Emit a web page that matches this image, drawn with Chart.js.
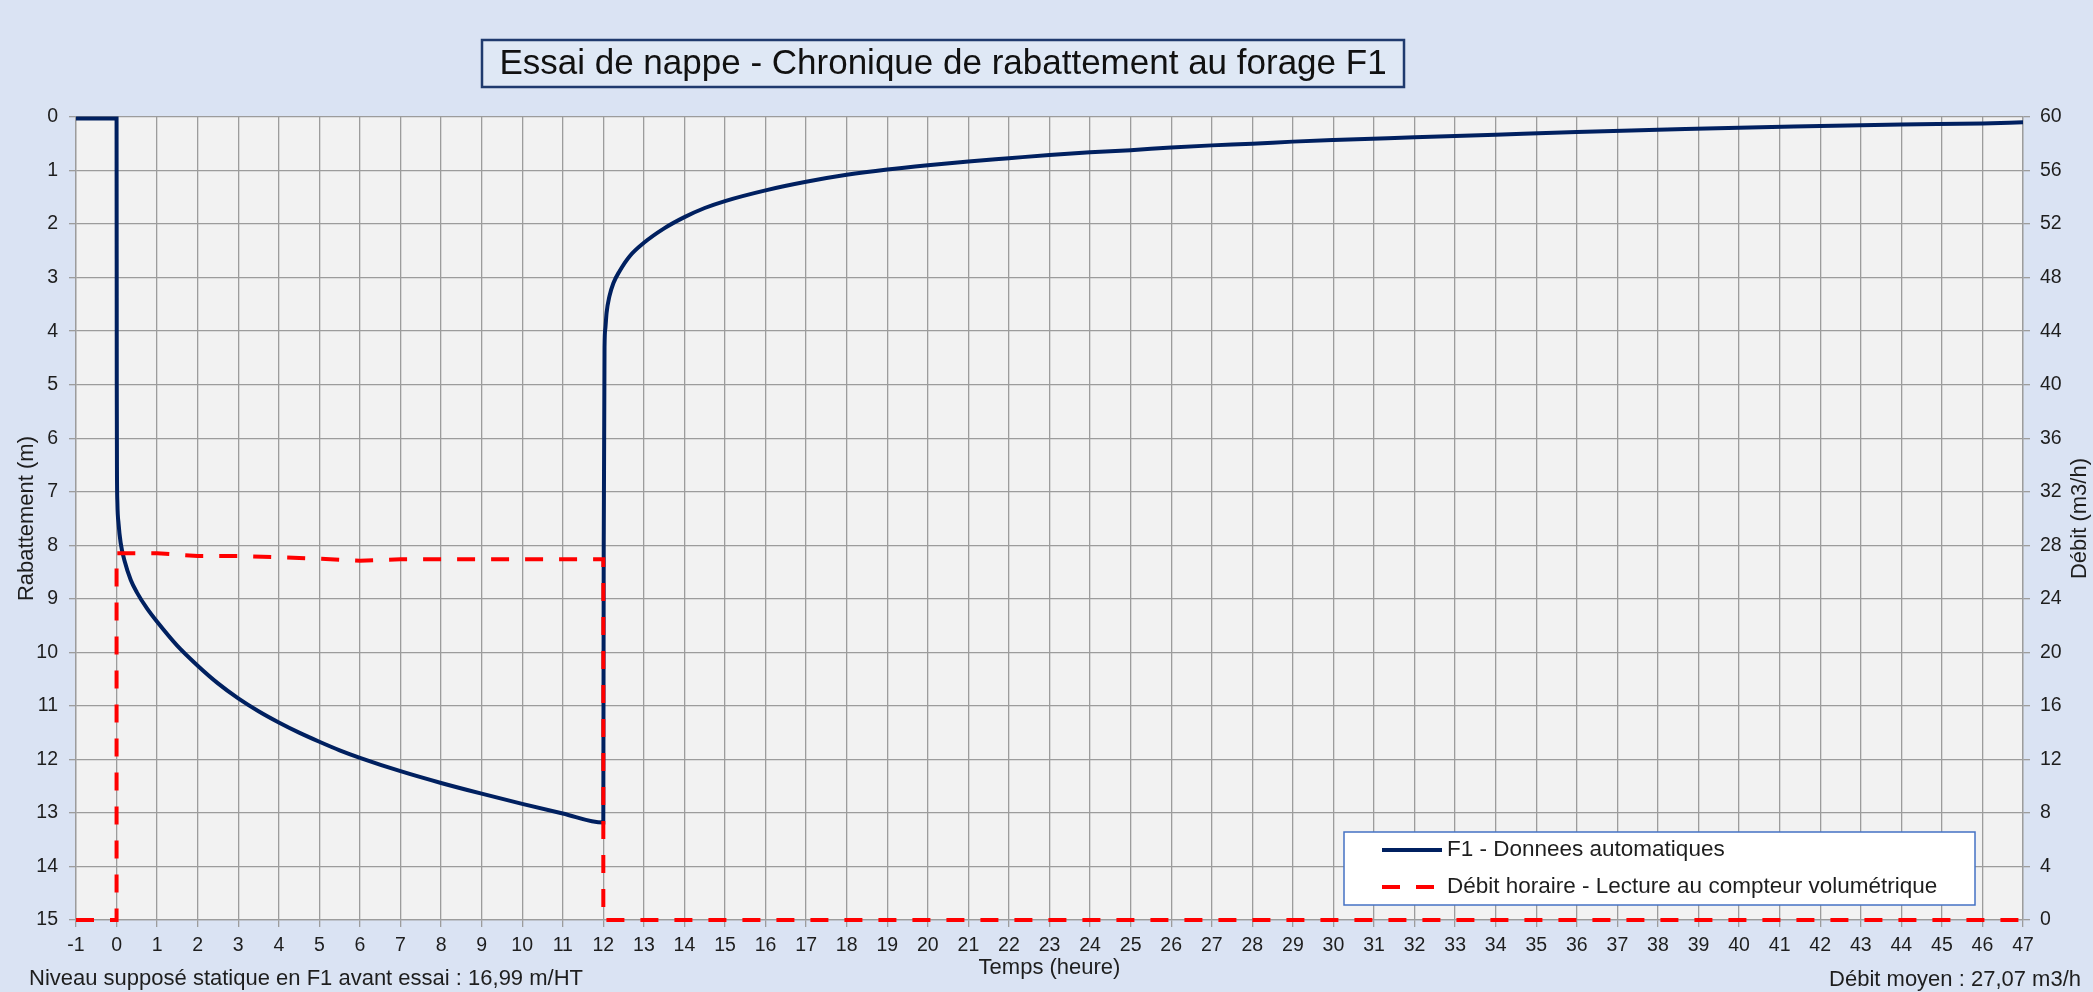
<!DOCTYPE html>
<html>
<head>
<meta charset="utf-8">
<script src="https://cdn.jsdelivr.net/npm/chart.js@4/dist/chart.umd.min.js"></script>
<style>
  html, body { margin: 0; padding: 0; background: #dae3f3; }
  canvas { display: block; }
</style>
</head>
<body>
<canvas id="chart" width="2093" height="992"></canvas>
<script>
// time in hours, drawdown in m (F1 automatic logger)
const drawdownTimes = [
  -1, -0.5, 0, 0.005, 0.01, 0.02, 0.05, 0.1, 0.2, 0.35, 0.5, 0.75, 1, 1.5, 2, 2.5, 3, 3.5, 4, 4.5, 5, 5.5,
  6, 7, 8, 9, 10, 11, 12,
  12.01, 12.03, 12.05, 12.08, 12.15, 12.25, 12.4, 12.65, 13, 13.5, 14, 14.5, 15, 16, 17, 18,
  19, 20, 21, 22, 23, 24, 25, 26, 27, 28, 29, 30, 32, 34, 36, 38, 40, 42, 44, 46, 47
]
const drawdownValues = [
  0.03, 0.03, 0.03, 5.0, 6.6, 7.2, 7.6, 7.95, 8.3, 8.65, 8.88, 9.18, 9.43, 9.88, 10.25, 10.58, 10.86, 11.1, 11.31, 11.5, 11.67, 11.83,
  11.97, 12.22, 12.44, 12.64, 12.83, 13.01, 13.18,
  8.0, 4.3, 3.95, 3.66, 3.35, 3.1, 2.88, 2.6, 2.35, 2.08, 1.87, 1.7, 1.57, 1.37, 1.21, 1.08,
  0.98, 0.9, 0.83, 0.77, 0.71, 0.66, 0.62, 0.57, 0.53, 0.5, 0.46, 0.43, 0.38, 0.33, 0.28, 0.24, 0.2, 0.17, 0.14, 0.12, 0.1
]

// hourly flow read on the meter, m3/h
const flowTimes = [-1, 0, 0, 1, 2, 3, 4, 5, 6, 7, 8, 9, 10, 11, 12, 12, 47]
const flowValues = [0, 0, 27.4, 27.4, 27.2, 27.2, 27.1, 27.0, 26.85, 26.95, 26.95, 26.95, 26.95, 26.95, 26.95, 0, 0]

const hourRange = [-1, 47]
const drawdownRange = [0, 15]
const flowRange = [0, 60]

const FONT = '"Liberation Sans", Arial, sans-serif'
const GRID = '#9c9c9c'
const TEXT = '#1e1e1e'
const BLUE = '#002060'
const RED = '#ff0000'

const toPoints = (xs, ys) => xs.map((x, i) => ({ x: x, y: ys[i] }))

const decor = {
  id: 'decor',
  beforeDraw(chart) {
    const { ctx, chartArea: a } = chart
    ctx.save()
    ctx.fillStyle = '#dae3f3'
    ctx.fillRect(0, 0, chart.width, chart.height)
    ctx.fillStyle = '#f2f2f2'
    ctx.fillRect(a.left, a.top, a.right - a.left, a.bottom - a.top)
    ctx.restore()
  },
  afterDraw(chart) {
    const { ctx, chartArea: a } = chart
    const midX = (a.left + a.right) / 2
    const midY = (a.top + a.bottom) / 2
    ctx.save()

    // title box
    ctx.fillStyle = '#dfe8f5'
    ctx.fillRect(482, 40, 922, 47)
    ctx.strokeStyle = '#1f3a6e'
    ctx.lineWidth = 2.5
    ctx.strokeRect(482, 40, 922, 47)
    ctx.fillStyle = '#111'
    ctx.font = '35px ' + FONT
    ctx.textAlign = 'center'
    ctx.textBaseline = 'middle'
    ctx.fillText('Essai de nappe - Chronique de rabattement au forage F1', 943, 64)

    // legend
    ctx.fillStyle = '#fff'
    ctx.fillRect(1344, 832, 631, 73)
    ctx.strokeStyle = '#4472c4'
    ctx.lineWidth = 1.5
    ctx.strokeRect(1344, 832, 631, 73)
    ctx.font = '22.5px ' + FONT
    ctx.textAlign = 'left'
    const rows = [850, 887]
    chart.data.datasets.forEach((ds, i) => {
      ctx.strokeStyle = ds.borderColor
      ctx.lineWidth = ds.borderWidth
      ctx.setLineDash(ds.borderDash || [])
      ctx.beginPath()
      ctx.moveTo(1382, rows[i])
      ctx.lineTo(1442, rows[i])
      ctx.stroke()
      ctx.setLineDash([])
      ctx.fillStyle = TEXT
      ctx.fillText(ds.label, 1447, rows[i])
    })

    // axis titles and notes
    ctx.font = '22px ' + FONT
    ctx.fillStyle = TEXT
    ctx.textAlign = 'center'
    ctx.fillText('Temps (heure)', midX, 968)
    ctx.textAlign = 'left'
    ctx.fillText('Niveau supposé statique en F1 avant essai : 16,99 m/HT', 29, 979)
    ctx.textAlign = 'right'
    ctx.fillText('Débit moyen : 27,07 m3/h', 2081, 980)

    ctx.textAlign = 'center'
    ctx.save()
    ctx.translate(27, midY)
    ctx.rotate(-Math.PI / 2)
    ctx.fillText('Rabattement (m)', 0, 0)
    ctx.restore()
    ctx.save()
    ctx.translate(2080, midY)
    ctx.rotate(-Math.PI / 2)
    ctx.fillText('Débit (m3/h)', 0, 0)
    ctx.restore()

    ctx.restore()
  }
}

const tickFont = { family: FONT, size: 19.5 }

new Chart(document.getElementById('chart'), {
  type: 'line',
  data: {
    datasets: [
      {
        label: 'F1 - Donnees automatiques',
        data: toPoints(drawdownTimes, drawdownValues),
        yAxisID: 'y',
        borderColor: BLUE,
        borderWidth: 4,
        pointRadius: 0,
        cubicInterpolationMode: 'monotone',
        order: 1,
        clip: false
      },
      {
        label: 'Débit horaire - Lecture au compteur volumétrique',
        data: toPoints(flowTimes, flowValues),
        yAxisID: 'y1',
        borderColor: RED,
        borderWidth: 4,
        borderDash: [18, 16],
        pointRadius: 0,
        tension: 0,
        order: 0,
        clip: false
      }
    ]
  },
  options: {
    responsive: false,
    animation: false,
    devicePixelRatio: 1,
    layout: { padding: { top: 117, left: 0, right: 0, bottom: 0 } },
    plugins: {
      legend: { display: false },
      title: { display: false },
      tooltip: { enabled: false }
    },
    scales: {
      x: {
        type: 'linear',
        min: hourRange[0],
        max: hourRange[1],
        ticks: { stepSize: 1, autoSkip: false, maxRotation: 0, font: tickFont, color: TEXT, padding: 7 },
        grid: { color: GRID, lineWidth: 1.3, tickLength: 7 },
        border: { color: GRID, width: 1.3 },
        afterFit: (s) => { s.height = 72 }
      },
      y: {
        position: 'left',
        reverse: true,
        min: drawdownRange[0],
        max: drawdownRange[1],
        ticks: { stepSize: 1, font: tickFont, color: TEXT, padding: 11 },
        grid: { color: GRID, lineWidth: 1.3, tickLength: 7 },
        border: { color: GRID, width: 1.3 },
        afterFit: (s) => { s.width = 76 }
      },
      y1: {
        position: 'right',
        min: flowRange[0],
        max: flowRange[1],
        ticks: { stepSize: 4, font: tickFont, color: TEXT, padding: 10 },
        grid: { drawOnChartArea: false, color: GRID, lineWidth: 1.3, tickLength: 7 },
        border: { color: GRID, width: 1.3 },
        afterFit: (s) => { s.width = 70 }
      }
    }
  },
  plugins: [decor]
})
</script>
</body>
</html>
